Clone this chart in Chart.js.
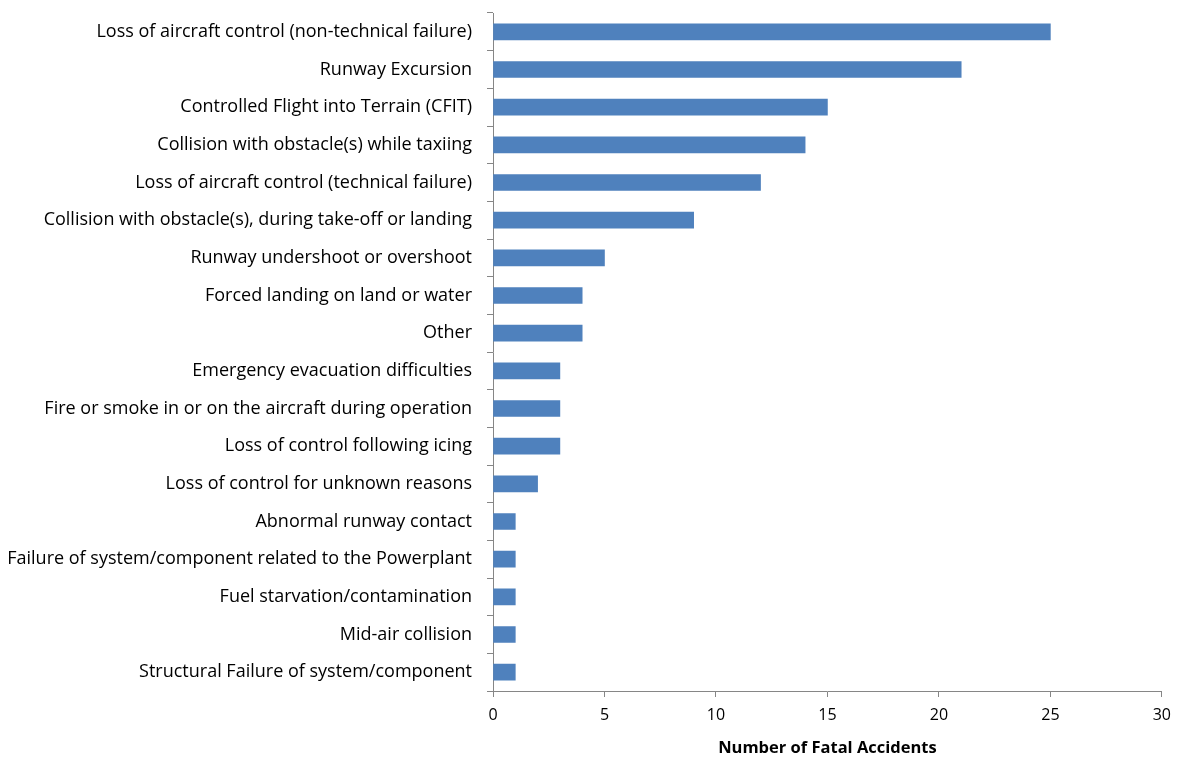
<!DOCTYPE html>
<html>
<head>
<meta charset="utf-8">
<script src="https://cdn.jsdelivr.net/npm/chart.js@4"></script>
<style>
	html, body { margin: 0; padding: 0; background: #fff; }
	#wrap { width: 1180px; height: 758px; }
</style>
</head>
<body>
<div id="wrap"><canvas id="accidentChart"></canvas></div>
<script>
const categories = [
	'Loss of aircraft control (non-technical failure)',
	'Runway Excursion',
	'Controlled Flight into Terrain (CFIT)',
	'Collision with obstacle(s) while taxiing',
	'Loss of aircraft control (technical failure)',
	'Collision with obstacle(s), during take-off or landing',
	'Runway undershoot or overshoot',
	'Forced landing on land or water',
	'Other',
	'Emergency evacuation difficulties',
	'Fire or smoke in or on the aircraft during operation',
	'Loss of control following icing',
	'Loss of control for unknown reasons',
	'Abnormal runway contact',
	'Failure of system/component related to the Powerplant',
	'Fuel starvation/contamination',
	'Mid-air collision',
	'Structural Failure of system/component'
];
const fatalAccidents = [25, 21, 15, 14, 12, 9, 5, 4, 4, 3, 3, 3, 2, 1, 1, 1, 1, 1];
const xTicks = [0, 5, 10, 15, 20, 25, 30];

document.addEventListener('DOMContentLoaded', () => {
	const axisGrey = '#868686';
	const fontFamily = '"Open Sans", Lato, sans-serif';

	const config = {
		type: 'bar',
		data: {
			labels: categories,
			datasets: [{
				label: 'Number of Fatal Accidents',
				data: fatalAccidents,
				backgroundColor: '#4f81bd',
				barThickness: 16
			}]
		},
		options: {
			indexAxis: 'y',
			responsive: true,
			maintainAspectRatio: false,
			animation: false,
			layout: { padding: { top: 13, right: 14, left: 0, bottom: 0 } },
			plugins: {
				legend: { display: false },
				tooltip: { enabled: false }
			},
			scales: {
				x: {
					min: 0,
					max: 30,
					afterBuildTicks: (axis) => { axis.ticks = xTicks.map(v => ({ value: v })); },
					afterFit: (axis) => { axis.height = 67; },
					grid: { drawOnChartArea: false, color: axisGrey, tickLength: 6 },
					border: { color: axisGrey, width: 1 },
					ticks: { color: '#000', font: { family: fontFamily, size: 16 }, padding: 9, maxRotation: 0 },
					title: {
						display: true,
						text: 'Number of Fatal Accidents',
						color: '#000',
						font: { family: fontFamily, size: 16.5, weight: 'bold' },
						padding: { top: 2, bottom: 0 }
					}
				},
				y: {
					afterFit: (axis) => {
						axis.width = 493;
						// keep the label padding from pushing the plot down
						axis.paddingTop = 0;
						axis.paddingBottom = 0;
					},
					grid: { drawOnChartArea: false, color: axisGrey, tickLength: 6, offset: true },
					border: { color: axisGrey, width: 1 },
					ticks: { color: '#000', font: { family: fontFamily, size: 18 }, padding: 15, autoSkip: false }
				}
			}
		}
	};

	new Chart(document.getElementById('accidentChart'), config);
});
</script>
</body>
</html>
